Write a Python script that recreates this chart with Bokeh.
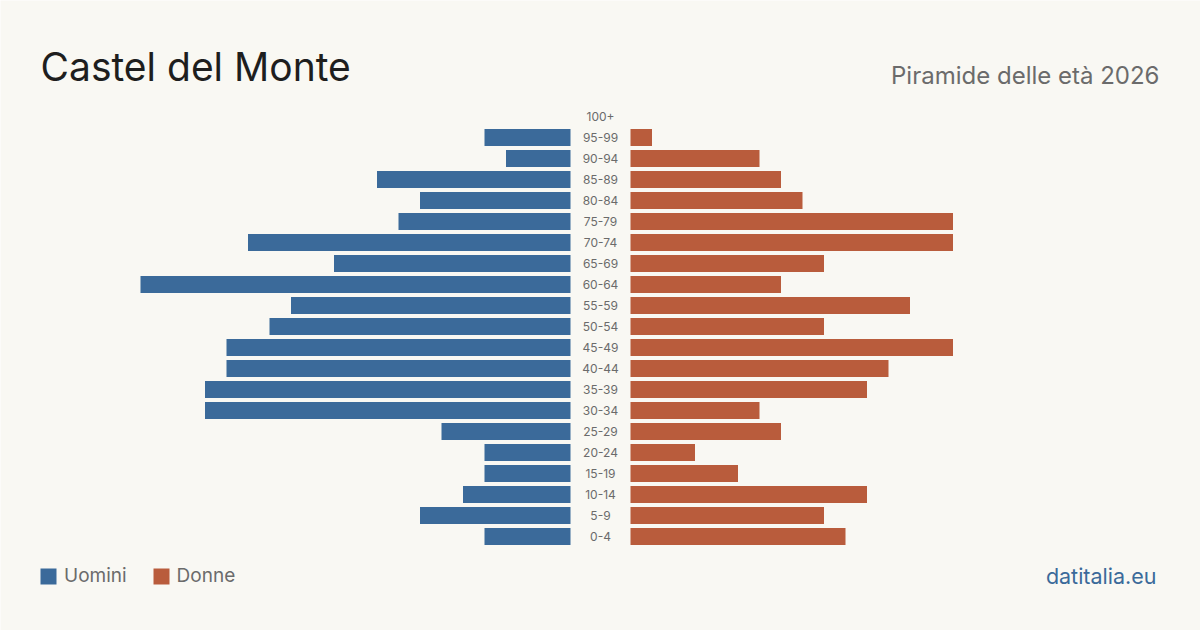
from bokeh.plotting import figure
from bokeh.models import ColumnDataSource, Range1d, Label, Legend, LegendItem
from bokeh.core.properties import value
from bokeh.embed import file_html
from bokeh.resources import INLINE

# Age classes, youngest first
ages = ["0-4", "5-9", "10-14", "15-19", "20-24", "25-29", "30-34", "35-39",
        "40-44", "45-49", "50-54", "55-59", "60-64", "65-69", "70-74",
        "75-79", "80-84", "85-89", "90-94", "95-99", "100+"]
uomini = [4, 7, 5, 4, 4, 6, 17, 17, 16, 16, 14, 13, 20, 11, 15, 8, 7, 9, 3, 4, 0]
donne = [10, 9, 11, 5, 3, 7, 6, 11, 12, 15, 9, 13, 7, 9, 15, 15, 8, 7, 6, 1, 0]

title = "Castel del Monte"
subtitle = "Piramide delle età 2026"
source_text = "datitalia.eu"

W, H = 1200, 630
BG = "#f9f8f3"
BLUE = "#3b6a9a"
RED = "#b95c3c"
FONT = "Inter"

# horizontal scale: the longest bar spans 430 px; 30 px gap each side of centre
k = 430 / max(max(uomini), max(donne))
gap = 30 / k
row_px = 21

idx = list(range(len(ages)))
src = ColumnDataSource(dict(
    y=idx, age=ages,
    m_left=[-(gap + v) for v in uomini], m_right=[-gap] * len(idx),
    f_left=[gap] * len(idx), f_right=[gap + v for v in donne],
))

y0 = -(H - 536) / row_px
p = figure(width=W, height=H, output_backend="svg", toolbar_location=None,
           x_range=Range1d(-W / 2 / k, W / 2 / k),
           y_range=Range1d(y0, y0 + H / row_px),
           min_border=0, background_fill_color=BG, border_fill_color=BG,
           outline_line_color=None)
p.axis.visible = False
p.grid.visible = False

r_m = p.hbar(y="y", left="m_left", right="m_right", height=0.8, source=src,
             fill_color=BLUE, line_color=None)
r_f = p.hbar(y="y", left="f_left", right="f_right", height=0.8, source=src,
             fill_color=RED, line_color=None)

p.text(x=0, y="y", text="age", source=src, text_align="center",
       text_baseline="middle", text_font=value(FONT), text_font_size="12px",
       text_color="#6b6b6b")

p.add_layout(Label(x=40, y=H - 66, x_units="screen", y_units="screen",
                   text=title, text_font=FONT, text_font_size="39px",
                   text_color="#1e1e1e", text_baseline="alphabetic"))
p.add_layout(Label(x=1159, y=H - 75, x_units="screen", y_units="screen",
                   text=subtitle, text_font=FONT, text_font_size="24px",
                   text_color="#6b6b6b", text_align="right",
                   text_baseline="alphabetic"))
p.add_layout(Label(x=1156, y=H - 575, x_units="screen", y_units="screen",
                   text=source_text, text_font=FONT, text_font_size="21.5px",
                   text_color=BLUE, text_align="right",
                   text_baseline="alphabetic"))

# legend swatches are drawn inset by 10% of the glyph box, so a 20 px box
# gives a 16 px square
legend = Legend(items=[LegendItem(label="Uomini", renderers=[r_m]),
                       LegendItem(label="Donne", renderers=[r_f])],
                orientation="horizontal", location=(38, H - 587),
                glyph_width=20, glyph_height=20, label_standoff=6,
                spacing=24, padding=0, margin=0,
                border_line_color=None, background_fill_alpha=0,
                label_text_font=FONT, label_text_font_size="19px",
                label_text_color="#6b6b6b", label_height=20)
p.add_layout(legend)

open("out.html", "w").write(file_html(p, INLINE))
